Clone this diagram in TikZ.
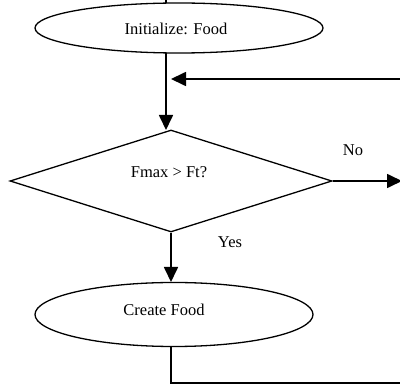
\documentclass[tikz,border=0pt]{standalone}
\usepackage{fontspec}
\setmainfont{Liberation Serif}
\usetikzlibrary{shapes.geometric,arrows.meta}
\begin{document}
\begin{tikzpicture}[x=1pt,y=-1pt,
  shapeline/.style={draw=black,line width=1.3pt},
  oval/.style={shapeline,ellipse,inner sep=0pt},
  lbl/.style={inner sep=0pt,font=\fontsize{16.5}{18}\selectfont},
  arr/.style={line width=1.7pt,-{Triangle[length=15pt,width=14pt]}},
  plain/.style={line width=1.3pt}]
\useasboundingbox (0,0) rectangle (400,385);
% nodes
\node[oval,minimum width=288pt,minimum height=50pt] (init) at (179,28) {};
\node[lbl] (initt) at (176,28.5) {Initialize: Food};
\node[shapeline,diamond,inner sep=0pt,minimum width=322pt,minimum height=102pt] (dec) at (171,181) {};
\node[lbl] (dect) at (169,172) {Fmax > Ft?};
\node[oval,minimum width=278pt,minimum height=64pt] (create) at (174,314.5) {};
\node[lbl] (createt) at (164,310) {Create Food};
\node[lbl] (no) at (353,150) {No};
\node[lbl] (yes) at (230,242) {Yes};
% coordinates
\coordinate (topin) at (166,-5);
\coordinate (inita) at (166,53);
\coordinate (deca) at (166,130);
\coordinate (join) at (171,79);
\coordinate (fbin) at (402,79);
\coordinate (noend) at (402,181);
\coordinate (yestip) at (171,282);
\coordinate (cb) at (171,346.5);
\coordinate (corner) at (171,383);
\coordinate (fbout) at (402,383);
% connectors
\draw[plain] (topin) -- (166,3.3);
\draw[arr] (inita) -- (deca);
\draw[arr] (fbin) -- (join);
\draw[arr] (dec.east) -- (noend);
\draw[arr] (dec.south) -- (yestip);
\draw[plain] (cb) -- (corner) -- (fbout);
\end{tikzpicture}
\end{document}
